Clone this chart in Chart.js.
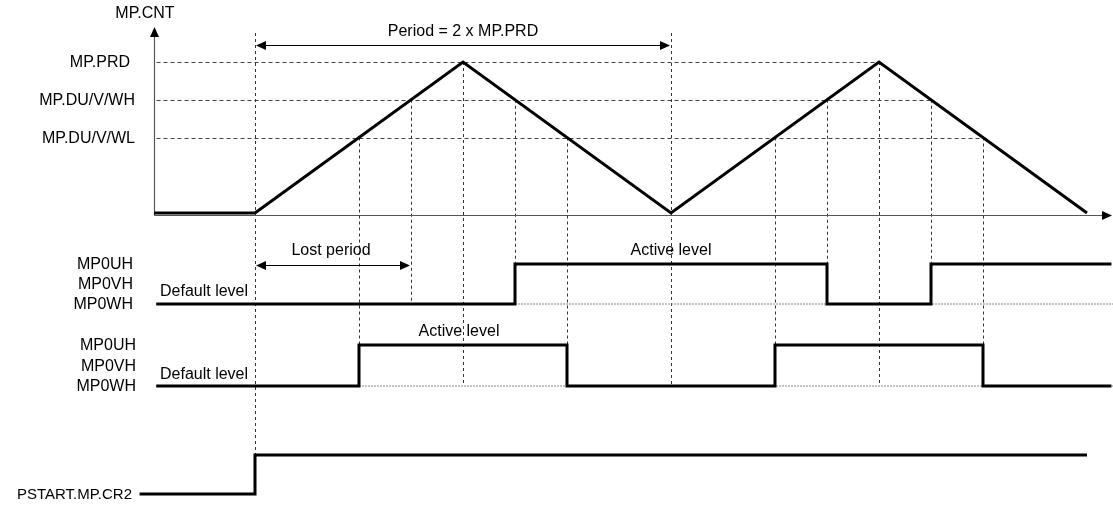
<!DOCTYPE html>
<html>
<head>
<meta charset="utf-8">
<script src="https://cdn.jsdelivr.net/npm/chart.js@4.4.1/dist/chart.umd.min.js"></script>
<style>
  html, body { margin: 0; padding: 0; background: #fff; }
  #wrap { width: 1113px; height: 506px; }
</style>
</head>
<body>
<div id="wrap"><canvas id="c" width="1113" height="506"></canvas></div>
<script>
// ---------------- DATA ----------------
// time in units (one unit = distance between adjacent compare points)
const counterT = [-1.94, 0, 4, 8, 12, 16];
const counterV = [0, 0, 4, 0, 4, 0];

const levelNames  = ['MP.PRD', 'MP.DU/V/WH', 'MP.DU/V/WL'];
const levelValues = [4, 3, 2];

const signalNames = ['MP0UH', 'MP0VH', 'MP0WH'];

const sig1T = [-1.9, 5, 11, 13, 16.47];
const sig1V = [0, 1, 0, 1, 1];
const sig1BaseT = [5, 16.5];
const sig1BaseV = [0, 0];

const sig2T = [-1.9, 2, 6, 10, 14, 16.47];
const sig2V = [0, 1, 0, 1, 0, 0];
const sig2BaseT = [2, 16.5];
const sig2BaseV = [0, 0];

const pstartT = [-2.22, 0, 16];
const pstartV = [0, 1, 1];

const guideT = [0, 2, 3, 4, 5, 6, 8, 10, 11, 12, 13, 14];
const periodSpan = [0, 8];
const lostSpan = [0, 3];

const txtCounter = 'MP.CNT';
const txtPeriod = 'Period = 2 x MP.PRD';
const txtLost = 'Lost period';
const txtActive = 'Active level';
const txtDefault = 'Default level';
const txtPstart = 'PSTART.MP.CR2';

// ---------------- LAYOUT ----------------
const W = 1113, H = 506;
const T0_PX = 255, UNIT_PX = 52;
function rangeFor(v0, p0, v1, p1) {
  const unit = (p0 - p1) / (v1 - v0);
  return { min: v0 - (H - p0) / unit, max: v0 + p0 / unit };
}
const rc  = rangeFor(0, 213, 4, 62);
const rs1 = rangeFor(0, 304, 1, 264);
const rs2 = rangeFor(0, 386, 1, 345);
const rsp = rangeFor(0, 494, 1, 455);

const pts = (ts, vs) => ts.map((t, i) => ({ x: t, y: vs[i] }));
const FONT = '16px "Liberation Sans", Arial, sans-serif';

function interp(ts, vs, t) {
  for (let i = 0; i < ts.length - 1; i++) {
    if (t >= ts[i] && t <= ts[i + 1]) {
      const f = (t - ts[i]) / (ts[i + 1] - ts[i]);
      return vs[i] + f * (vs[i + 1] - vs[i]);
    }
  }
  return vs[vs.length - 1];
}
const hasEdge = (ts, t) => ts.indexOf(t) > 0;

function arrowHead(ctx, x, y, dir, len, half) {
  ctx.beginPath();
  if (dir === 'r') { ctx.moveTo(x, y); ctx.lineTo(x - len, y - half); ctx.lineTo(x - len, y + half); }
  else if (dir === 'l') { ctx.moveTo(x, y); ctx.lineTo(x + len, y - half); ctx.lineTo(x + len, y + half); }
  else { ctx.moveTo(x, y); ctx.lineTo(x - half, y + len); ctx.lineTo(x + half, y + len); }
  ctx.closePath();
  ctx.fill();
}

const diagram = {
  id: 'diagram',
  beforeDatasetsDraw(chart) {
    const ctx = chart.ctx;
    const sx = chart.scales.x, yc = chart.scales.yc, ys1 = chart.scales.ys1,
          ys2 = chart.scales.ys2, ysp = chart.scales.ysp;
    const axX = Math.round(sx.getPixelForValue(counterT[0])) + 0.5;
    const axY = Math.round(yc.getPixelForValue(0)) + 2.5;
    ctx.save();
    // threshold dashed lines
    ctx.strokeStyle = '#444';
    ctx.lineWidth = 1;
    ctx.setLineDash([4, 3]);
    levelValues.forEach((v) => {
      const y = Math.round(yc.getPixelForValue(v)) + 0.5;
      let lastT = null;
      guideT.forEach(t => { if (Math.abs(interp(counterT, counterV, t) - v) < 1e-6) lastT = t; });
      ctx.beginPath();
      ctx.moveTo(axX + 2, y);
      ctx.lineTo(sx.getPixelForValue(lastT), y);
      ctx.stroke();
    });
    // vertical guides
    ctx.strokeStyle = '#333';
    ctx.setLineDash([3, 3]);
    guideT.forEach(t => {
      const x = Math.round(sx.getPixelForValue(t)) + 0.5;
      const top = periodSpan.includes(t) ? 33 : yc.getPixelForValue(interp(counterT, counterV, t));
      let bottom;
      if (t === 0) bottom = ysp.getPixelForValue(1);
      else if (t === lostSpan[1]) bottom = ys1.getPixelForValue(0);
      else if (hasEdge(sig1T, t)) bottom = ys1.getPixelForValue(1);
      else if (hasEdge(sig2T, t)) bottom = ys2.getPixelForValue(1);
      else bottom = ys2.getPixelForValue(0);
      ctx.beginPath();
      ctx.moveTo(x, top);
      ctx.lineTo(x, bottom);
      ctx.stroke();
    });
    ctx.setLineDash([]);
    // axes
    ctx.strokeStyle = '#555';
    ctx.fillStyle = '#000';
    ctx.lineWidth = 1.2;
    ctx.beginPath();
    ctx.moveTo(axX, axY);
    ctx.lineTo(axX, 36);
    ctx.stroke();
    arrowHead(ctx, axX, 27, 'u', 10, 4.5);
    ctx.beginPath();
    ctx.moveTo(axX, axY);
    ctx.lineTo(W - 10, axY);
    ctx.stroke();
    arrowHead(ctx, W - 1, axY, 'r', 10, 4.5);
    ctx.restore();
  },
  afterDatasetsDraw(chart) {
    const ctx = chart.ctx;
    const sx = chart.scales.x, yc = chart.scales.yc, ys1 = chart.scales.ys1,
          ys2 = chart.scales.ys2, ysp = chart.scales.ysp;
    ctx.save();
    ctx.fillStyle = '#000';
    ctx.strokeStyle = '#000';
    ctx.lineWidth = 1;
    // Period arrow
    const py = 45.5;
    const p0 = sx.getPixelForValue(periodSpan[0]) + 1, p1 = sx.getPixelForValue(periodSpan[1]) - 1;
    ctx.beginPath(); ctx.moveTo(p0 + 8, py); ctx.lineTo(p1 - 8, py); ctx.stroke();
    arrowHead(ctx, p0, py, 'l', 10, 4.5);
    arrowHead(ctx, p1, py, 'r', 10, 4.5);
    // Lost period arrow
    const ly = 265.5;
    const l0 = sx.getPixelForValue(lostSpan[0]) + 1, l1 = sx.getPixelForValue(lostSpan[1]) - 1;
    ctx.beginPath(); ctx.moveTo(l0 + 8, ly); ctx.lineTo(l1 - 8, ly); ctx.stroke();
    arrowHead(ctx, l0, ly, 'l', 10, 4.5);
    arrowHead(ctx, l1, ly, 'r', 10, 4.5);

    // texts
    ctx.font = FONT;
    ctx.textBaseline = 'middle';
    ctx.textAlign = 'center';
    ctx.fillText(txtCounter, 145, 14);
    ctx.fillText(txtPeriod, (p0 + p1) / 2, 32);
    ctx.fillText(txtLost, (l0 + l1) / 2 - 2, 251);
    ctx.fillText(txtActive, sx.getPixelForValue((sig1T[1] + sig1T[2]) / 2), ys1.getPixelForValue(1) - 13);
    ctx.fillText(txtActive, sx.getPixelForValue((sig2T[1] + sig2T[2]) / 2) - 4, ys2.getPixelForValue(1) - 13);

    ctx.textAlign = 'right';
    levelNames.forEach((n, i) => {
      ctx.fillText(n, i === 0 ? 130 : 135, yc.getPixelForValue(levelValues[i]) + 1);
    });
    [[ys1, 133], [ys2, 136]].forEach(([s, rx]) => {
      signalNames.forEach((n, i) => {
        ctx.fillText(n, rx, s.getPixelForValue(1 - i * 0.5) + 1);
      });
    });
    ctx.font = '15px "Liberation Sans", Arial, sans-serif';
    ctx.fillText(txtPstart, 132, ysp.getPixelForValue(0) + 1);

    ctx.font = FONT;
    ctx.textAlign = 'left';
    ctx.fillText(txtDefault, 160, ys1.getPixelForValue(0) - 12);
    ctx.fillText(txtDefault, 160, ys2.getPixelForValue(0) - 11);
    ctx.restore();
  }
};

const thick = { borderColor: '#000', borderWidth: 3, pointRadius: 0, fill: false,
                borderJoinStyle: 'miter', borderCapStyle: 'butt', tension: 0 };
const dotted = { borderColor: '#888', borderWidth: 1, pointRadius: 0, fill: false,
                 borderDash: [2, 1] };

new Chart(document.getElementById('c'), {
  type: 'line',
  data: {
    datasets: [
      Object.assign({ label: 'base1', data: pts(sig1BaseT, sig1BaseV), yAxisID: 'ys1', order: 5 }, dotted),
      Object.assign({ label: 'base2', data: pts(sig2BaseT, sig2BaseV), yAxisID: 'ys2', order: 5 }, dotted),
      Object.assign({ label: 'MP.CNT', data: pts(counterT, counterV), yAxisID: 'yc', order: 1 }, thick),
      Object.assign({ label: 'Signal A', data: pts(sig1T, sig1V), yAxisID: 'ys1', stepped: true, order: 1 }, thick),
      Object.assign({ label: 'Signal B', data: pts(sig2T, sig2V), yAxisID: 'ys2', stepped: true, order: 1 }, thick),
      Object.assign({ label: 'PSTART', data: pts(pstartT, pstartV), yAxisID: 'ysp', stepped: true, order: 1 }, thick)
    ]
  },
  options: {
    responsive: false,
    animation: false,
    layout: { padding: 0 },
    plugins: { legend: { display: false }, tooltip: { enabled: false } },
    scales: {
      x:   { type: 'linear', display: false, min: -T0_PX / UNIT_PX, max: (W - T0_PX) / UNIT_PX },
      yc:  { type: 'linear', display: false, min: rc.min,  max: rc.max },
      ys1: { type: 'linear', display: false, min: rs1.min, max: rs1.max },
      ys2: { type: 'linear', display: false, min: rs2.min, max: rs2.max },
      ysp: { type: 'linear', display: false, min: rsp.min, max: rsp.max }
    }
  },
  plugins: [diagram]
});
</script>
</body>
</html>
